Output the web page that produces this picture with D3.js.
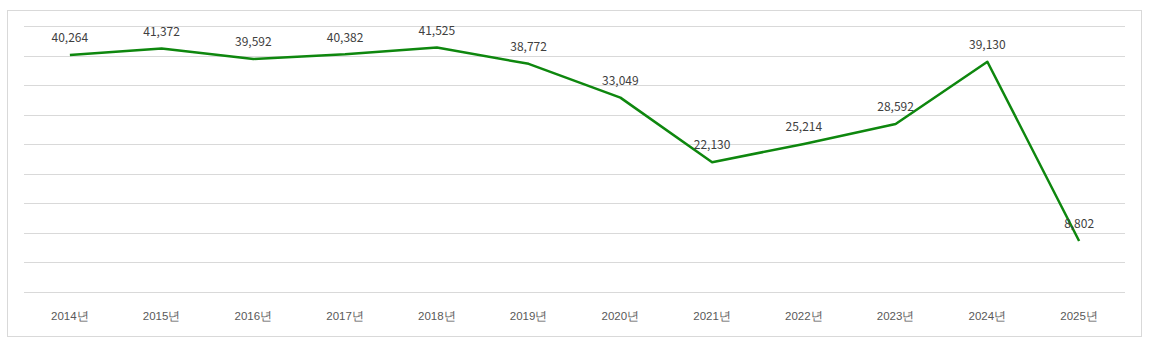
<!DOCTYPE html>
<html><head><meta charset="utf-8">
<script src="https://cdn.jsdelivr.net/npm/d3@7"></script>
<style>
html,body{margin:0;padding:0;background:#fff;}
svg{display:block;font-family:"Noto Sans CJK KR","Noto Sans",sans-serif;}
</style></head>
<body>
<svg id="c" width="1150" height="350"></svg>
<script>
const categories = ["2014년","2015년","2016년","2017년","2018년","2019년","2020년","2021년","2022년","2023년","2024년","2025년"];
const values = [40264,41372,39592,40382,41525,38772,33049,22130,25214,28592,39130,8802];
const yTicks = [0,5000,10000,15000,20000,25000,30000,35000,40000,45000];

const svg = d3.select("#c");
const W = 1150, H = 350;
const m = {left:24, right:25, top:26, bottom:58};

svg.append("rect").attr("x",7.5).attr("y",10.5).attr("width",1134).attr("height",326)
  .attr("fill","#fff").attr("stroke","#d9d9d9").attr("stroke-width",1);

const x = d3.scaleBand().domain(categories).range([m.left, W-m.right]).padding(0);
const y = d3.scaleLinear().domain([0,45000]).range([H-m.bottom, m.top]);

const grid = svg.append("g");
grid.selectAll("line").data(yTicks).join("line")
  .attr("x1",m.left).attr("x2",W-m.right)
  .attr("y1",d=>Math.round(y(d))+0.5).attr("y2",d=>Math.round(y(d))+0.5)
  .attr("stroke","#d9d9d9").attr("stroke-width",1);

const xAxis = d3.axisBottom(x).tickSize(0).tickPadding(0);
const gx = svg.append("g").attr("transform",`translate(0,${H-m.bottom})`).call(xAxis);
gx.select(".domain").remove();
gx.selectAll("text").attr("dy",null).attr("y",25).attr("fill","#595959")
  .attr("font-size","11.5px").attr("font-weight","500").attr("dominant-baseline","middle");

const cx = d => x(d) + x.bandwidth()/2;
const line = d3.line().x((d,i)=>cx(categories[i])).y(d=>y(d)+1);
svg.append("path").datum(values).attr("d",line)
  .attr("fill","none").attr("stroke","#0e870e").attr("stroke-width",2.5)
  .attr("stroke-linejoin","round");

const fmt = d3.format(",");
svg.append("g").selectAll("text").data(values).join("text")
  .attr("x",(d,i)=>cx(categories[i])).attr("y",d=>y(d)-15)
  .attr("text-anchor","middle").attr("dominant-baseline","middle")
  .attr("font-size","12px").attr("fill","#404040")
  .text(d=>fmt(d));
</script>
</body></html>
